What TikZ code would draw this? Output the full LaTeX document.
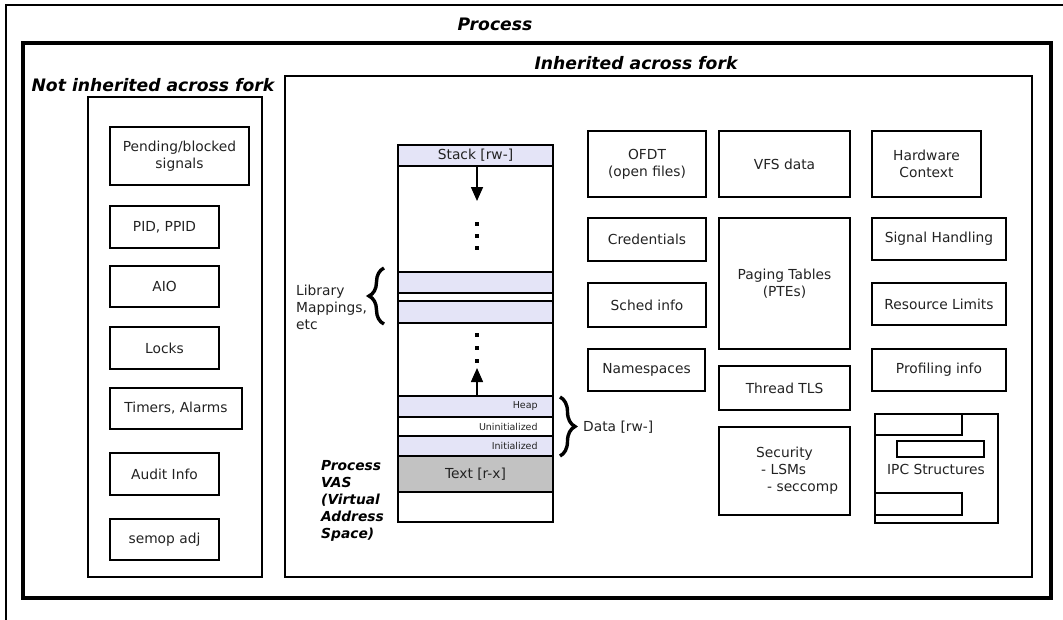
\documentclass[tikz,border=0pt]{standalone}
\usepackage{fontspec}
\setmainfont{DejaVu Sans}
\usetikzlibrary{arrows.meta,decorations.pathreplacing}
\definecolor{lav}{HTML}{E4E4F7}
\definecolor{txtgray}{HTML}{C2C2C2}
\definecolor{ink}{HTML}{222222}
\newcommand\bodyfont{\fontsize{13.8}{17}\selectfont}
\newcommand\smallfont{\fontsize{9.5}{11}\selectfont}
\newcommand\titlefont{\fontsize{17.2}{20}\selectfont\bfseries\itshape}
\begin{document}
\begin{tikzpicture}[x=1pt,y=-1pt,
  box/.style={draw=black, line width=1.6pt, inner sep=0pt, align=center, font=\bodyfont, text=ink},
  framebox/.style={draw=black, line width=1.4pt, inner sep=0pt},
  seg/.style={draw=black, line width=1.6pt, inner sep=0pt, minimum width=155pt, font=\bodyfont, text=ink},
  lbl/.style={font=\smallfont, text=ink, inner sep=0pt, anchor=east},
  ttl/.style={font=\titlefont, text=black, inner sep=0pt},
  growarr/.style={line width=1.6pt, -{Triangle[width=12pt,length=14pt]}},
  brc/.style={decorate, decoration={brace, amplitude=15pt}, line width=3.4pt}
]
\useasboundingbox (0,0) rectangle (1063,619);
% outer thin frame (cut off at right and bottom)
\draw[line width=1.5pt] (6,625) -- (6,5) -- (1070,5);
% thick process frame
\node[framebox, line width=4.5pt, minimum width=1028pt, minimum height=555pt] (proc) at (537,320.5) {};
\node[ttl] (ptitle) at (495,24) {Process};
% not inherited column
\node[framebox, minimum width=174pt, minimum height=480pt] (notinh) at (175,337) {};
\node[ttl] (ntitle) at (153,85) {Not inherited across fork};
% inherited column
\node[framebox, minimum width=747pt, minimum height=501pt] (inh) at (658.5,326.5) {};
\node[ttl] (ititle) at (636,63) {Inherited across fork};

% left boxes
\node[box, minimum width=139pt, minimum height=58pt] (pend) at (179.5,156) {Pending/blocked\\signals};
\node[box, minimum width=109pt, minimum height=42pt] (pid) at (164.5,227) {PID, PPID};
\node[box, minimum width=109pt, minimum height=41pt] (aio) at (164.5,286.5) {AIO};
\node[box, minimum width=109pt, minimum height=42pt] (locks) at (164.5,348) {Locks};
\node[box, minimum width=132pt, minimum height=41pt] (timers) at (176,408.5) {Timers, Alarms};
\node[box, minimum width=109pt, minimum height=42pt] (audit) at (164.5,474) {Audit Info};
\node[box, minimum width=109pt, minimum height=41pt] (semop) at (164.5,539.5) {semop adj};

% right boxes
\node[box, minimum width=118pt, minimum height=66pt] (ofdt) at (647,164) {OFDT\\(open files)};
\node[box, minimum width=131pt, minimum height=66pt] (vfs) at (784.5,164) {VFS data};
\node[box, minimum width=109pt, minimum height=66pt] (hw) at (926.5,164) {Hardware\\Context};
\node[box, minimum width=118pt, minimum height=43pt] (cred) at (647,239.5) {Credentials};
\node[box, minimum width=131pt, minimum height=131pt] (paging) at (784.5,283.5) {Paging Tables\\(PTEs)};
\node[box, minimum width=134pt, minimum height=42pt] (sig) at (939,239) {Signal Handling};
\node[box, minimum width=118pt, minimum height=44pt] (sched) at (647,305) {Sched info};
\node[box, minimum width=134pt, minimum height=42pt] (res) at (939,304) {Resource Limits};
\node[box, minimum width=117pt, minimum height=42pt] (ns) at (646.5,370) {Namespaces};
\node[box, minimum width=131pt, minimum height=44pt] (tls) at (784.5,388) {Thread TLS};
\node[box, minimum width=134pt, minimum height=42pt] (prof) at (939,370) {Profiling info};
\node[box, minimum width=131pt, minimum height=88pt] (sec) at (784.5,471) {};
\node[font=\bodyfont, text=ink, align=left, anchor=west, inner sep=0pt] (sectxt) at (756,471) {Security\\\hspace{5pt}- LSMs\\\hspace{11pt}- seccomp};

% IPC structures
\node[box, minimum width=123pt, minimum height=109pt] (ipc) at (936.5,468.5) {};
\draw[line width=1.6pt] (ipc.north west |- 0,435) -| (962,414);
\draw[line width=1.6pt] (897,441) rectangle (984,457);
\draw[line width=1.6pt] (ipc.west |- 0,493) -| (962,515) -- (ipc.west |- 0,515);
\node[font=\bodyfont, text=ink, inner sep=0pt] (ipctxt) at (936,469) {IPC Structures};

% VAS column
\node[seg, fill=lav, minimum height=21pt] (stack) at (475.5,155.5) {Stack [rw-]};
\node[seg, minimum height=106pt] (gap1) at (475.5,219) {};
\node[seg, fill=lav, minimum height=21pt] (lib1) at (475.5,282.5) {};
\node[seg, minimum height=8pt] (gap2) at (475.5,297) {};
\node[seg, fill=lav, minimum height=22pt] (lib2) at (475.5,312) {};
\node[seg, minimum height=73pt] (gap3) at (475.5,359.5) {};
\node[seg, fill=lav, minimum height=21pt] (heap) at (475.5,406.5) {};
\node[seg, minimum height=19pt] (uninit) at (475.5,426.5) {};
\node[seg, fill=lav, minimum height=20pt] (init) at (475.5,446) {};
\node[seg, fill=txtgray, minimum height=36pt] (text) at (475.5,474) {Text [r-x]};
\node[seg, minimum height=30pt] (bot) at (475.5,507) {};
\node[lbl] (heapl) at ([xshift=-16pt]heap.east) {Heap};
\node[lbl] (uninitl) at ([xshift=-16pt]uninit.east) {Uninitialized};
\node[lbl] (initl) at ([xshift=-16pt]init.east) {Initialized};

% growth arrows and dots
\coordinate (sdown) at (477,201);
\coordinate (hup) at (477,368);
\draw[growarr] ([xshift=1.5pt]stack.south) -- (sdown);
\draw[growarr] ([xshift=1.5pt]heap.north) -- (hup);
\foreach \yy in {224,236,248,335,348,361}
  \fill (475,\yy-2) rectangle (479,\yy+2);

% braces and labels
\draw[brc] (384,324) -- (384,268);
\node[font=\bodyfont, text=ink, align=left, anchor=west, inner sep=0pt] (libl) at (296,307) {Library\\Mappings,\\etc};
\draw[brc] (560,397) -- (560,456);
\node[font=\bodyfont, text=ink, anchor=west, inner sep=0pt] (datal) at (583,427) {Data [rw-]};
\node[font=\bodyfont\bfseries\itshape, text=black, align=left, anchor=north west, inner sep=0pt] (vasl) at (321,460) {Process\\VAS\\(Virtual\\Address\\Space)};
\end{tikzpicture}
\end{document}
